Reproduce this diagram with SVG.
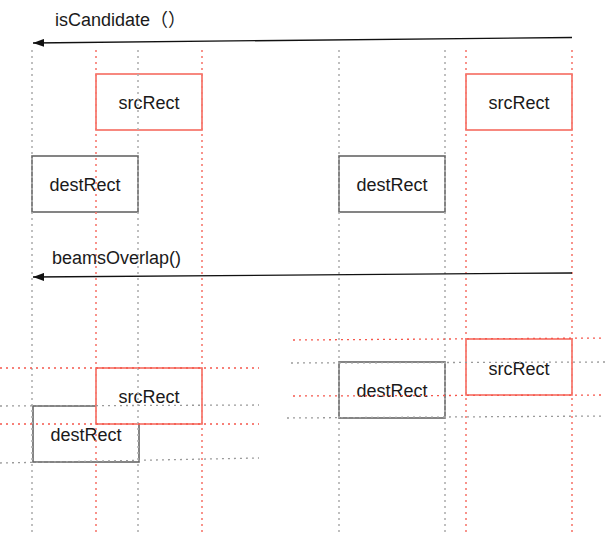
<svg xmlns="http://www.w3.org/2000/svg" width="605" height="536" viewBox="0 0 605 536">
<style>
  .bg{fill:#ffffff}
  .src{fill:#ffffff;stroke:#f56b60;stroke-width:1.6}
  .dst{fill:#ffffff;stroke:#666666;stroke-width:1.6}
  .lbl{font-family:"Liberation Sans","Noto Sans CJK SC",Arial,sans-serif;font-size:18px;fill:#1a1a1a;text-anchor:middle}
  .title{font-family:"Liberation Sans","Noto Sans CJK SC",Arial,sans-serif;font-size:18px;fill:#1a1a1a}
  .gdot{stroke:#b0b0b0;stroke-width:1.6;stroke-dasharray:2 4;fill:none}
  .rdot{stroke:#f7786e;stroke-width:1.6;stroke-dasharray:2 4;fill:none}
  .gh{stroke:#9a9a9a;stroke-width:1.3;stroke-dasharray:2 4;fill:none}
  .rh{stroke:#f5574c;stroke-width:1.3;stroke-dasharray:2 4;fill:none}
  .arrow{stroke:#111111;stroke-width:1.3;fill:none}
</style>
<defs>
  <marker id="ah" viewBox="0 0 11 8" refX="11" refY="4" markerWidth="11" markerHeight="8" markerUnits="userSpaceOnUse" orient="auto">
    <path d="M11,4 L0,0 L0,8 Z" fill="#111111"/>
  </marker>
</defs>
<rect class="bg" x="0" y="0" width="605" height="536"/>

<g id="dest-top-left"><rect class="dst" x="32" y="156" width="106" height="56"/><text class="lbl" x="85" y="191">destRect</text></g>
<g id="src-top-left"><rect class="src" x="96" y="74" width="106" height="56"/><text class="lbl" x="149" y="109">srcRect</text></g>
<g id="dest-top-right"><rect class="dst" x="339" y="156" width="106" height="56"/><text class="lbl" x="392" y="191">destRect</text></g>
<g id="src-top-right"><rect class="src" x="466" y="74" width="106" height="56"/><text class="lbl" x="519" y="109">srcRect</text></g>

<g id="dest-bottom-left"><rect class="dst" x="33" y="406" width="106" height="56"/><text class="lbl" x="86" y="441">destRect</text></g>
<g id="src-bottom-left"><rect class="src" x="96" y="368" width="106" height="56"/><text class="lbl" x="149" y="403">srcRect</text></g>
<g id="dest-bottom-right"><rect class="dst" x="339" y="362" width="106" height="56"/><text class="lbl" x="392" y="397">destRect</text></g>
<g id="src-bottom-right"><rect class="src" x="466" y="339" width="106" height="56"/><text class="lbl" x="519" y="375">srcRect</text></g>

<g id="guides">
  <line class="gdot" x1="32" y1="50" x2="32" y2="536"/>
  <line class="rdot" x1="96" y1="50" x2="96" y2="536"/>
  <line class="gdot" x1="138" y1="50" x2="138" y2="536"/>
  <line class="rdot" x1="202" y1="50" x2="202" y2="536"/>
  <line class="gdot" x1="339" y1="50" x2="339" y2="536"/>
  <line class="gdot" x1="445" y1="50" x2="445" y2="536"/>
  <line class="rdot" x1="466" y1="50" x2="466" y2="536"/>
  <line class="rdot" x1="572" y1="50" x2="572" y2="536"/>

  <line class="rh" x1="0" y1="368" x2="259" y2="368"/>
  <line class="gh" x1="0" y1="406" x2="259" y2="405"/>
  <line class="rh" x1="0" y1="424" x2="259" y2="424"/>
  <line class="gh" x1="0" y1="463" x2="259" y2="458"/>

  <line class="rh" x1="293" y1="340" x2="605" y2="338"/>
  <line class="gh" x1="291" y1="363" x2="605" y2="362"/>
  <line class="rh" x1="293" y1="396" x2="605" y2="395"/>
  <line class="gh" x1="287" y1="418" x2="605" y2="416"/>
</g>

<g id="connectors">
  <line class="arrow" x1="572" y1="37.5" x2="33" y2="43" marker-end="url(#ah)"/>
  <line class="arrow" x1="572" y1="273" x2="33" y2="277" marker-end="url(#ah)"/>
  <text class="title" x="55" y="26">isCandidate（）</text>
  <text class="title" x="52" y="264">beamsOverlap()</text>
</g>
</svg>
